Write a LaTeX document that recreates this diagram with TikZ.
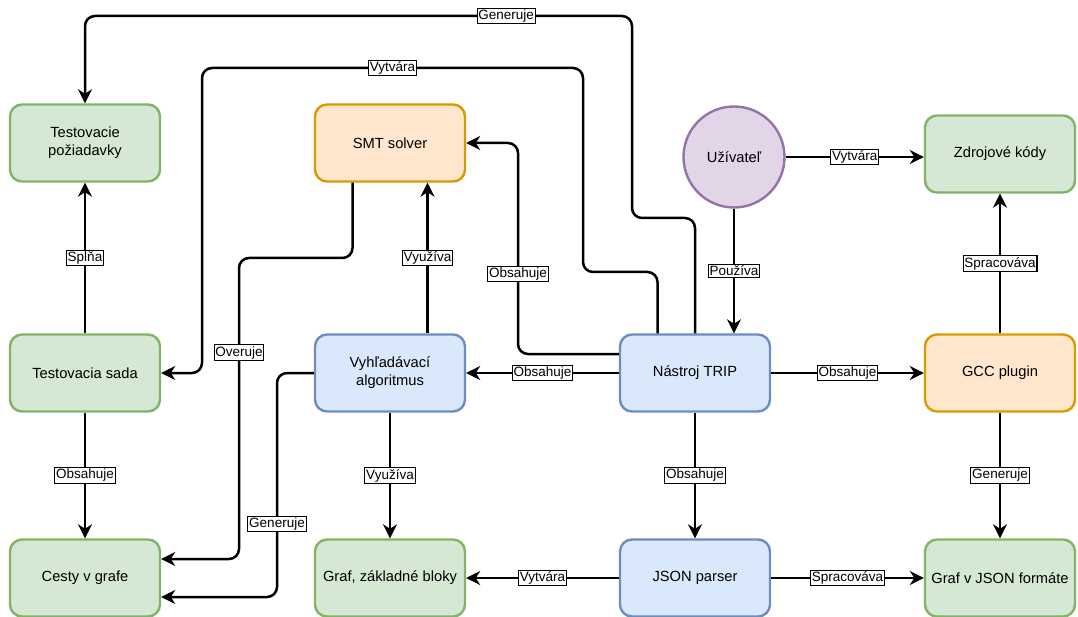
\documentclass[tikz,border=0pt]{standalone}
\usepackage{fontspec}
\setmainfont{Liberation Sans}
\usetikzlibrary{arrows.meta,positioning}

\definecolor{grnfill}{HTML}{D5E8D4}
\definecolor{grnline}{HTML}{82B366}
\definecolor{orgfill}{HTML}{FFE6CC}
\definecolor{orgline}{HTML}{D79B00}
\definecolor{blufill}{HTML}{DAE8FC}
\definecolor{bluline}{HTML}{6C8EBF}
\definecolor{purfill}{HTML}{E1D5E7}
\definecolor{purline}{HTML}{9673A6}

\begin{document}
\begin{tikzpicture}[x=1pt, y=-1pt,
            box/.style={rectangle, rounded corners=12pt, draw, line width=2.4pt,
                    minimum width=150pt, minimum height=77pt, align=center,
                    font=\fontsize{14.7}{18}\selectfont},
            outbox/.style={box, fill=grnfill, draw=grnline},
            extbox/.style={box, fill=orgfill, draw=orgline},
            modbox/.style={box, fill=blufill, draw=bluline},
            actor/.style={circle, draw=purline, fill=purfill, line width=2.4pt,
                    minimum size=101pt, font=\fontsize{14.7}{18}\selectfont},
            lbl/.style={draw=black, fill=white, sharp corners, line width=1.1pt,
                    inner sep=1.3pt, font=\fontsize{13.5}{15}\selectfont},
            >={Stealth[length=14pt,width=14pt,inset=4.5pt]},
            conn/.style={->, line width=2.5pt, rounded corners=10pt},
            node distance=152.6pt]

        \useasboundingbox (0,0) rectangle (1078,617);

        \node[outbox] (sada) at (85,373) {Testovacia sada};
        \node[modbox, right=of sada] (vyh) {Vyhľadávací\\algoritmus};
        \node[modbox, right=of vyh] (trip) {Nástroj TRIP};
        \node[extbox, right=of trip] (gcc) {GCC plugin};

        \node[outbox, above=150.6pt of sada] (poz) {Testovacie\\požiadavky};
        \node[extbox, above=150.6pt of vyh] (smt) {SMT solver};
        \node[actor, above=124.6pt of trip, xshift=39pt] (user) {Užívateľ};
        \node[outbox, above=139.6pt of gcc] (zdroj) {Zdrojové kódy};

        \node[outbox, below=125.6pt of sada] (cesty) {Cesty v grafe};
        \node[outbox, below=125.6pt of vyh] (graf) {Graf, základné bloky};
        \node[modbox, below=125.6pt of trip] (json) {JSON parser};
        \node[outbox, below=125.6pt of gcc] (gjson) {Graf v JSON formáte};

        \draw[conn] (trip.north) |- (632,218) -- (632,16)
            -| node[lbl,pos=0.115] {Generuje} (poz.north);
        \draw[conn] ([xshift=-37.5pt]trip.north) |- (583,272) -- (583,68)
            -- node[lbl] {Vytvára} (202,68) |- (sada.east);
        \draw[conn] ([yshift=19pt]trip.west) -| node[lbl,pos=0.69] {Obsahuje} (518,143) -- (smt.east);
        \draw[conn] (trip) -- node[lbl] {Obsahuje} (vyh);
        \draw[conn] (trip) -- node[lbl] {Obsahuje} (gcc);
        \draw[conn] (trip) -- node[lbl] {Obsahuje} (json);

        \draw[conn] (user) -- node[lbl] {Používa} (user |- trip.north);
        \draw[conn] (user) -- node[lbl] {Vytvára} (user -| zdroj.west);
        \draw[conn] (gcc) -- node[lbl] {Spracováva} (zdroj);
        \draw[conn] (gcc) -- node[lbl] {Generuje} (gjson);
        \draw[conn] (json) -- node[lbl] {Spracováva} (gjson);
        \draw[conn] (json) -- node[lbl] {Vytvára} (graf);

        \draw[conn] (vyh) -- node[lbl] {Využíva} (graf);
        \draw[conn] ([xshift=37.5pt]vyh.north) -- node[lbl] {Využíva} ([xshift=37.5pt]smt.south);
        \draw[conn] ([xshift=-37.5pt]smt.south) |- (239,258)
            |- node[lbl,pos=0.157] {Overuje} ([yshift=19pt]cesty.east);
        \draw[conn] (vyh.west) -- (277,373)
            |- node[lbl,pos=0.337] {Generuje} ([yshift=-19pt]cesty.east);

        \draw[conn] (sada) -- node[lbl] {Splňa} (poz);
        \draw[conn] (sada) -- node[lbl] {Obsahuje} (cesty);
    \end{tikzpicture}
\end{document}
